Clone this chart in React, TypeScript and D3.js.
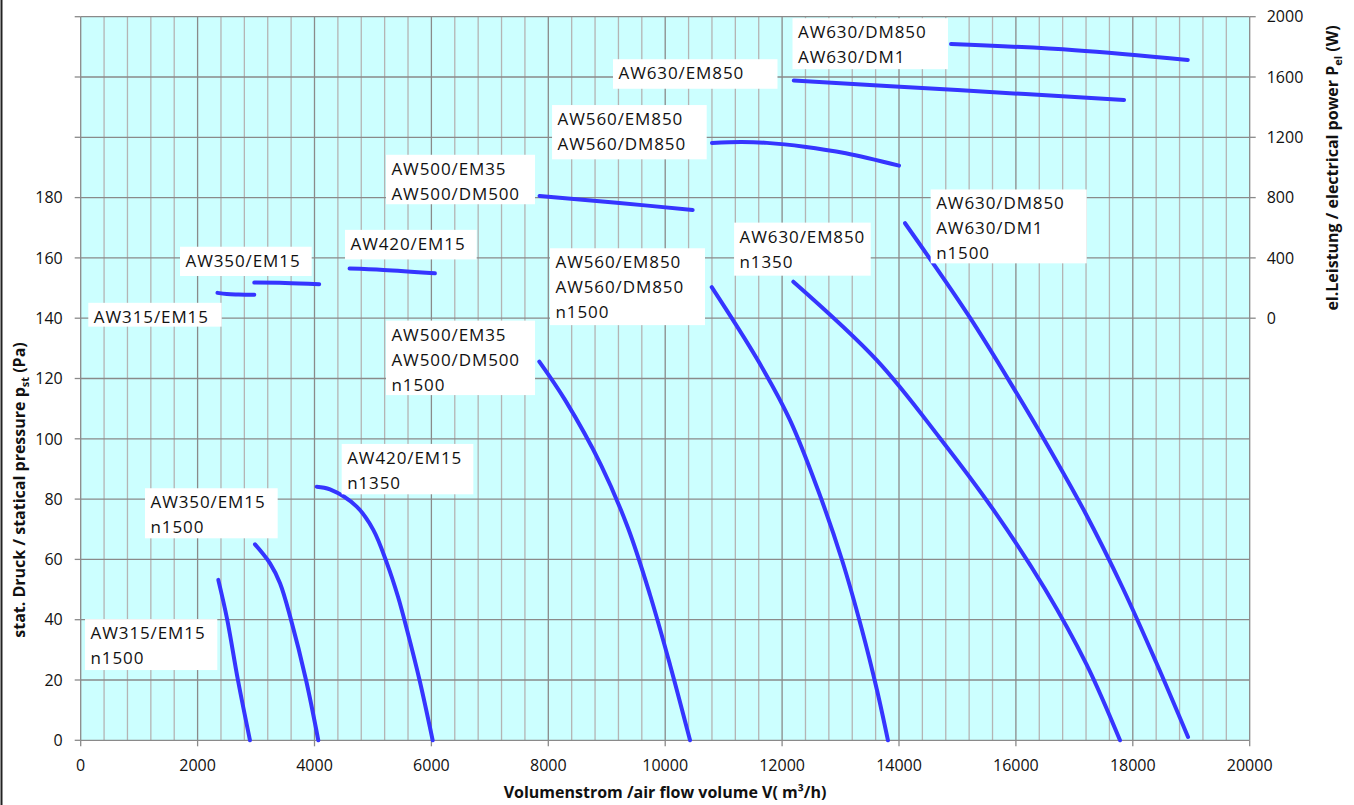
import React, { useEffect, useRef } from "react";
import * as d3 from "d3";

// ---------- axis ticks ----------
const flowTicks = [0, 2000, 4000, 6000, 8000, 10000, 12000, 14000, 16000, 18000, 20000];
const flowMinorStep = 400;
const pressureTicks = [0, 20, 40, 60, 80, 100, 120, 140, 160, 180];
const pressureGrid = [0, 20, 40, 60, 80, 100, 120, 140, 160, 180, 200, 220, 240];
const powerTicks = [0, 400, 800, 1200, 1600, 2000];

// ---------- pressure curves [flow m³/h, static pressure Pa] ----------
const pAW315 = [[2354, 53.2], [2505, 40.2], [2690, 20], [2896, 0]];
const pAW350 = [[2982, 65], [3239, 58.7], [3410, 52.1], [3595, 40.2], [3855, 20], [4065, 0]];
const pAW420 = [[4038, 84.1], [4265, 83.2], [4722, 77.5], [5006, 69.8], [5240, 58.7], [5429, 47.6], [5583, 36.6], [5797, 20], [6022, 0]];
const pAW500 = [[7846, 125.6], [8286, 112.9], [8902, 91.3], [9364, 70.4], [9741, 48.2], [10083, 25], [10425, 0]];
const pAW560 = [[10796, 150.3], [11583, 126.1], [12135, 106.2], [12614, 83], [13025, 59.8], [13367, 36.6], [13623, 16.7], [13811, 0]];
const pAW630EM = [[12192, 152.1], [13619, 126.1], [14702, 100.2], [15660, 75.2], [16498, 50.2], [17208, 25.2], [17781, 0]];
const pAW630DM = [[14103, 171.5], [15203, 140.5], [16014, 115.1], [16470, 100.2], [17188, 75.4], [17826, 50.6], [18401, 25.8], [18945, 1.1]];

// ---------- power curves [flow m³/h, electrical power W] ----------
const wAW315 = [[2340, 168], [2500, 160], [2700, 157], [2970, 155]];
const wAW350 = [[2970, 236], [3500, 234], [4080, 226]];
const wAW420 = [[4600, 329], [5180, 320], [6060, 298]];
const wAW500 = [[7850, 811], [9170, 766], [10470, 718]];
const wAW560 = [[10800, 1162], [11300, 1168], [11740, 1163], [12380, 1138], [13090, 1094], [14000, 1012]];
const wAW630EM = [[12200, 1576], [15000, 1513], [17850, 1448]];
const wAW630DM = [[14890, 1819], [17010, 1778], [18940, 1713]];

const pressureCurves = [pAW315, pAW350, pAW420, pAW500, pAW560, pAW630EM, pAW630DM];
const powerCurves = [wAW315, wAW350, wAW420, wAW500, wAW560, wAW630EM, wAW630DM];

// ---------- annotation boxes: text lines + region [flowL, pressTop, flowR, pressBottom] ----------
const labelLines = [
  ["AW630/DM850", "AW630/DM1"],
  ["AW630/EM850"],
  ["AW560/EM850", "AW560/DM850"],
  ["AW500/EM35", "AW500/DM500"],
  ["AW420/EM15"],
  ["AW350/EM15"],
  ["AW315/EM15"],
  ["AW560/EM850", "AW560/DM850", "n1500"],
  ["AW500/EM35", "AW500/DM500", "n1500"],
  ["AW630/EM850", "n1350"],
  ["AW630/DM850", "AW630/DM1", "n1500"],
  ["AW420/EM15", "n1350"],
  ["AW350/EM15", "n1500"],
  ["AW315/EM15", "n1500"],
];
const labelRegions = [
  [12178, 239.5, 14838, 222.6],
  [9107, 225.9, 11921, 216.1],
  [8064, 210.7, 10710, 192.7],
  [5223, 194.2, 7773, 177.8],
  [4522, 169.3, 6775, 159.5],
  [1699, 163.7, 3952, 154.0],
  [130, 145.1, 2412, 137.2],
  [8029, 163.2, 10681, 137.7],
  [5223, 139.2, 7773, 114.5],
  [11178, 171.7, 13516, 154.1],
  [14542, 182.7, 17211, 158.2],
  [4465, 98.3, 6717, 81.6],
  [1100, 83.6, 3370, 67.0],
  [74, 40.2, 2337, 23.3],
];

const W = 1354;
const H = 805;
const FONT = "'Open Sans', 'Liberation Sans', sans-serif";

export default function App() {
  const ref = useRef<SVGSVGElement | null>(null);

  useEffect(() => {
    const svg = d3.select(ref.current);
    svg.selectAll("*").remove();

    const left = 80.7, right = 1249.7, top = 16.7, bottom = 740.3;
    const x = d3.scaleLinear().domain([0, 20000]).range([left, right]);
    const yP = d3.scaleLinear().domain([0, 240]).range([bottom, top]);
    const yW = d3.scaleLinear().domain([-2800, 2000]).range([bottom, top]);

    svg.append("rect").attr("width", W).attr("height", H).attr("fill", "#ffffff");
    svg.append("line").attr("x1", 1.5).attr("x2", 1.5).attr("y1", 0).attr("y2", H)
      .attr("stroke", "#222").attr("stroke-width", 2);

    svg.append("rect").attr("x", left).attr("y", top).attr("width", right - left)
      .attr("height", bottom - top).attr("fill", "#ccffff");

    // vertical grid
    const minor = d3.range(0, 20001, flowMinorStep).filter((v) => v % 2000 !== 0);
    svg.append("g").selectAll("line").data(minor).join("line")
      .attr("x1", (d) => x(d)).attr("x2", (d) => x(d)).attr("y1", top).attr("y2", bottom)
      .attr("stroke", "#b4b4b4").attr("stroke-width", 1.3);
    svg.append("g").selectAll("line").data(flowTicks).join("line")
      .attr("x1", (d) => x(d)).attr("x2", (d) => x(d)).attr("y1", top).attr("y2", bottom)
      .attr("stroke", "#8a8a8a").attr("stroke-width", 1.3);
    // horizontal grid
    svg.append("g").selectAll("line").data(pressureGrid).join("line")
      .attr("x1", left).attr("x2", right).attr("y1", (d) => yP(d)).attr("y2", (d) => yP(d))
      .attr("stroke", "#8a8a8a").attr("stroke-width", 1.3);

    // tick marks
    svg.append("g").selectAll("line").data(pressureGrid).join("line")
      .attr("x1", left - 6).attr("x2", left).attr("y1", (d) => yP(d)).attr("y2", (d) => yP(d))
      .attr("stroke", "#8a8a8a").attr("stroke-width", 1.3);
    svg.append("g").selectAll("line").data(powerTicks).join("line")
      .attr("x1", right).attr("x2", right + 6).attr("y1", (d) => yW(d)).attr("y2", (d) => yW(d))
      .attr("stroke", "#8a8a8a").attr("stroke-width", 1.3);
    svg.append("g").selectAll("line").data(flowTicks).join("line")
      .attr("x1", (d) => x(d)).attr("x2", (d) => x(d)).attr("y1", bottom).attr("y2", bottom + 6)
      .attr("stroke", "#8a8a8a").attr("stroke-width", 1.3);

    // tick labels
    const tl = svg.append("g").attr("font-family", FONT).attr("font-size", 16).attr("fill", "#111");
    tl.selectAll("text.l").data(pressureTicks).join("text").attr("class", "l")
      .attr("x", left - 18).attr("y", (d) => yP(d)).attr("dy", "0.36em")
      .attr("text-anchor", "end").text((d) => String(d));
    tl.selectAll("text.r").data(powerTicks).join("text").attr("class", "r")
      .attr("x", right + 17).attr("y", (d) => yW(d)).attr("dy", "0.36em")
      .attr("text-anchor", "start").text((d) => String(d));
    tl.selectAll("text.b").data(flowTicks).join("text").attr("class", "b")
      .attr("x", (d) => x(d)).attr("y", 770.5)
      .attr("text-anchor", "middle").text((d) => String(d));

    // curves
    const lineP = d3.line<number[]>().x((d) => x(d[0])).y((d) => yP(d[1])).curve(d3.curveCatmullRom.alpha(0.5));
    const lineW = d3.line<number[]>().x((d) => x(d[0])).y((d) => yW(d[1])).curve(d3.curveCatmullRom.alpha(0.5));
    const cg = svg.append("g").attr("fill", "none").attr("stroke", "#3535ff")
      .attr("stroke-width", 4).attr("stroke-linecap", "round").attr("stroke-linejoin", "round");
    pressureCurves.forEach((c) => cg.append("path").attr("d", lineP(c)));
    powerCurves.forEach((c) => cg.append("path").attr("d", lineW(c)));

    // labels
    const lg = svg.append("g").attr("font-family", FONT).attr("font-size", 17)
      .attr("letter-spacing", "0.9px").attr("fill", "#111");
    labelLines.forEach((lines, i) => {
      const [f0, p0, f1, p1] = labelRegions[i];
      const bx = x(f0), by = yP(p0);
      lg.append("rect").attr("x", bx).attr("y", by).attr("width", x(f1) - bx)
        .attr("height", yP(p1) - by).attr("fill", "#ffffff");
      lines.forEach((t, j) => {
        lg.append("text").attr("x", bx + 5.5).attr("y", by + 20 + j * 25).text(t);
      });
    });

    // axis titles
    const tg = svg.append("g").attr("font-family", FONT).attr("font-weight", "bold")
      .attr("font-size", 16).attr("fill", "#111");
    tg.append("text").attr("x", 665).attr("y", 798).attr("text-anchor", "middle")
      .text("Volumenstrom /air flow volume V( m³/h)");

    const lt = tg.append("text").attr("transform", "translate(25,490) rotate(-90)")
      .attr("text-anchor", "middle");
    lt.append("tspan").text("stat. Druck / statical pressure p");
    lt.append("tspan").attr("font-size", 11).attr("dy", 4).text("st");
    lt.append("tspan").attr("dy", -4).text(" (Pa)");

    const rt = tg.append("text").attr("transform", "translate(1338,168) rotate(-90)")
      .attr("text-anchor", "middle");
    rt.append("tspan").text("el.Leistung / electrical power P");
    rt.append("tspan").attr("font-size", 11).attr("dy", 4).text("el");
    rt.append("tspan").attr("dy", -4).text(" (W)");
  }, []);

  return (
    <svg
      ref={ref}
      width={W}
      height={H}
      style={{ position: "absolute", left: 0, top: 0, display: "block" }}
    />
  );
}
